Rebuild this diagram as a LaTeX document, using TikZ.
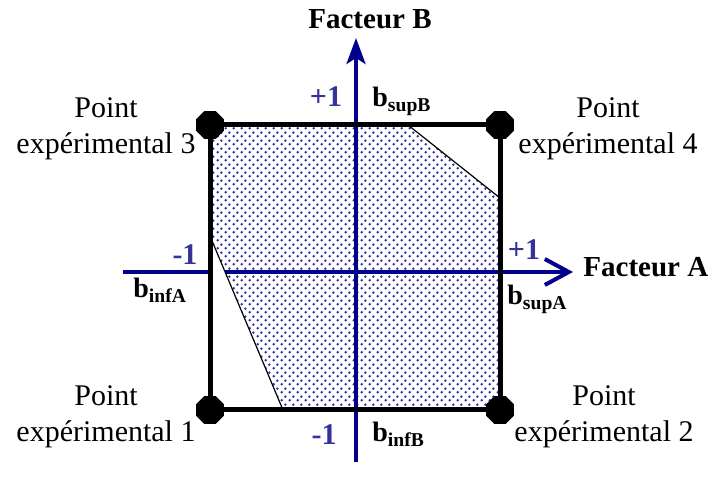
\documentclass[tikz,border=0pt]{standalone}
\usepackage{fontspec}
\setmainfont{Liberation Serif}
\usetikzlibrary{arrows.meta,shapes.geometric,patterns.meta}
\definecolor{axebleu}{RGB}{0,0,140}
\definecolor{texbleu}{RGB}{51,51,153}
\definecolor{pointbleu}{RGB}{50,50,170}
\tikzdeclarepattern{
  name=pointille,
  type=uncolored,
  bottom left={(0pt,0pt)},
  top right={(4pt,4pt)},
  tile size={(4pt,4pt)},
  code={\fill (1pt,1pt) circle (0.75pt); \fill (3pt,3pt) circle (0.75pt);}
}

\begin{document}
\begin{tikzpicture}[x=0.5pt,y=0.5pt,
 point/.style={regular polygon,regular polygon sides=8,fill=black,minimum size=15pt,inner sep=0pt},
 axe/.style={draw=axebleu,line width=2pt},
 texte/.style={align=center,font=\fontsize{15}{18}\selectfont,inner sep=0pt},
 facteur/.style={font=\fontsize{14.5}{16}\selectfont\bfseries,inner sep=0pt},
 niveau/.style={text=texbleu,font=\fontsize{15}{16}\selectfont\bfseries,inner sep=0pt},
 borne/.style={font=\fontsize{14}{16}\selectfont\bfseries,inner sep=0pt,anchor=base west}]
\useasboundingbox (0,0) rectangle (717,490);
% coins du domaine
\coordinate (c1) at (210,80);
\coordinate (c2) at (500,80);
\coordinate (c3) at (210,365);
\coordinate (c4) at (500,365);
% contraintes
\coordinate (h1) at (408,365);
\coordinate (h2) at (500,292);
\coordinate (g1) at (210,254);
\coordinate (g2) at (283,80);
% zone experimentale
\fill[pattern=pointille,pattern color=pointbleu] (g1)--(c3)--(h1)--(h2)--(c2)--(g2)--cycle;
% axes
\coordinate (xa) at (123,218);
\coordinate (xb) at (573,218);
\coordinate (ya) at (356,28);
\coordinate (yb) at (356,452);
\draw[axe,-{Straight Barb[length=12pt,width=13pt]}] (xa)--(xb);
\draw[axe,-{Stealth[length=13pt,width=9.5pt,inset=3pt]}] (ya)--(yb);
% zones exclues
\fill[white] (g1)--(c1)--(g2)--cycle;
\fill[white] (h1)--(c4)--(h2)--cycle;
\draw[line width=0.6pt] (g1)--(g2);
\draw[line width=0.6pt] (h1)--(h2);
\draw[line width=2.5pt] (c1) rectangle (c4);
\node[point] (p1) at (c1) {};
\node[point] (p2) at (c2) {};
\node[point] (p3) at (c3) {};
\node[point] (p4) at (c4) {};
% textes
\node[facteur] (fb) at (370,471) {Facteur B};
\node[facteur,anchor=west] (fa) at (583,223) {Facteur A};
\node[niveau] (nb+) at (326,393) {+1};
\node[niveau] (nb-) at (324,55) {-1};
\node[niveau] (na-) at (185,235) {-1};
\node[niveau] (na+) at (524,240) {+1};
\node[borne] (bsb) at (372,383) {b\textsubscript{supB}};
\node[borne] (bib) at (372,48) {b\textsubscript{infB}};
\node[borne] (bia) at (133,192) {b\textsubscript{infA}};
\node[borne] (bsa) at (507,185) {b\textsubscript{supA}};
\node[texte] (e3) at (106,361) {Point\\expérimental 3};
\node[texte] (e4) at (608,361) {Point\\expérimental 4};
\node[texte] (e1) at (106,73) {Point\\expérimental 1};
\node[texte] (e2) at (604,73) {Point\\expérimental 2};
\end{tikzpicture}
\end{document}
